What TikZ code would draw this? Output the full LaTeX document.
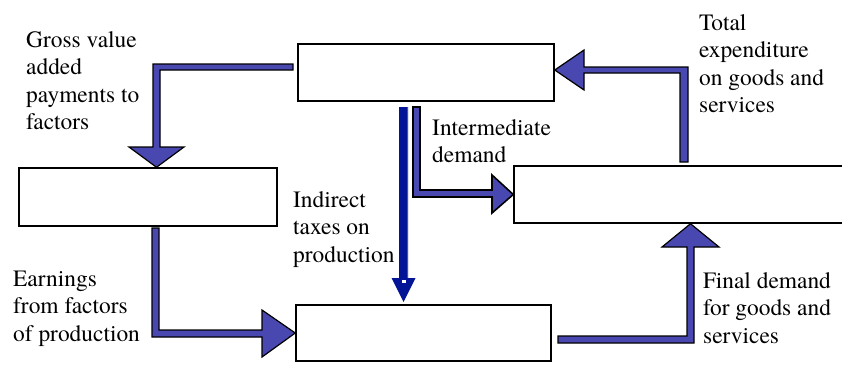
\documentclass[tikz,border=0pt]{standalone}
\usepackage{fontspec}
\newfontfamily\labelfont{TeX Gyre Termes}
\definecolor{arrowblue}{RGB}{72,72,176}
\definecolor{navyarrow}{RGB}{4,20,150}
\definecolor{navyedge}{RGB}{60,80,200}
\begin{document}
\begin{tikzpicture}[x=1pt,y=-1pt,
  box/.style={draw=black,line width=1.5pt,fill=white,inner sep=0pt},
  blockarrow/.style={draw=black,line width=1.2pt,fill=arrowblue,line join=miter},
  lbl/.style={anchor=north west,inner sep=0pt,align=left,
    font=\labelfont\fontsize{23.4}{27.5}\selectfont}]
\path[use as bounding box,clip] (0,0) rectangle (842,365);
\fill[white] (0,0) rectangle (842,365);

% boxes
\node[box,minimum width=256pt,minimum height=57pt] (top) at (426,72.5) {};
\node[box,minimum width=258pt,minimum height=58pt] (left) at (148,197) {};
\node[box,minimum width=336pt,minimum height=57pt] (right) at (682,194.5) {};
\node[box,minimum width=255pt,minimum height=56pt] (bottom) at (423.5,333) {};

% Gross value added: top -> left
\draw[blockarrow] (293,64) -- (153,64) -- (153,147) -- (129,147)
  -- (156.5,0 |- left.north) -- (184,147) -- (160,147) -- (160,70) -- (293,70) -- cycle;

% Earnings: left -> bottom
\draw[blockarrow] (152,228) -- (152,337) -- (262,337) -- (262,357)
  -- (bottom.west) -- (262,310) -- (262,330) -- (159,330) -- (159,228) -- cycle;

% Final demand: bottom -> right
\draw[blockarrow] (558,336) -- (687,336) -- (687,247) -- (662,247)
  -- (690.5,0 |- right.south) -- (719,247) -- (694,247) -- (694,343) -- (558,343) -- cycle;

% Total expenditure: right -> top
\draw[blockarrow] (680,162) -- (680,73) -- (584,73) -- (584,90)
  -- (top.east |- 0,70) -- (584,50) -- (584,67) -- (688,67) -- (688,162) -- cycle;

% Intermediate demand: top -> right
\draw[blockarrow,line width=1.6pt] (413,107) -- (413,197) -- (492,197) -- (492,213)
  -- (right.west) -- (492,175) -- (492,190) -- (420,190) -- (420,107) -- cycle;

% Indirect taxes: top -> bottom
\fill[navyarrow] (399,107) -- (399,278) -- (391.5,278) -- (403.5,302)
  -- (415.5,278) -- (408,278) -- (408,107) -- cycle;
\fill[navyedge] (406.5,107) rectangle (408,278);
\fill[white] (401.5,280) rectangle (405.5,283);

% labels
\node[lbl] (t1) at (26,31) {Gross value\\added\\payments to\\factors};
\node[lbl] (t2) at (699,14) {Total\\expenditure\\on goods and\\services};
\node[lbl] (t3) at (432,119) {Intermediate\\demand};
\node[lbl] (t4) at (293,191) {Indirect\\taxes on\\production};
\node[lbl] (t5) at (13,270.5) {Earnings\\from factors\\of production};
\node[lbl] (t6) at (703,272) {Final demand\\for goods and\\services};
\end{tikzpicture}
\end{document}
